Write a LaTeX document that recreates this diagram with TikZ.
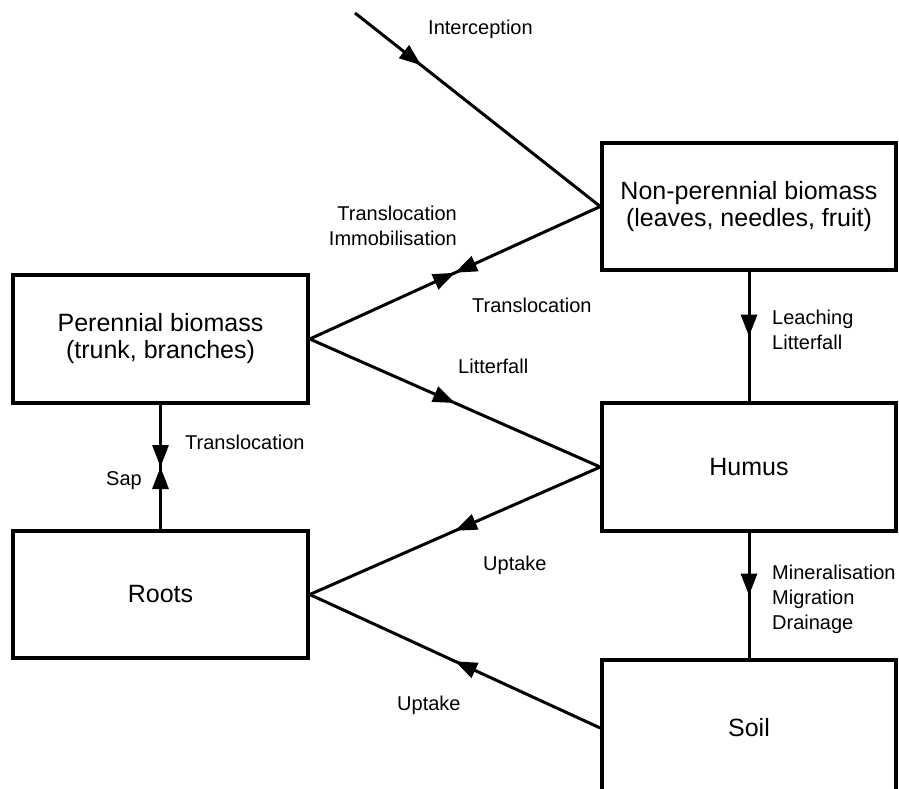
\documentclass[tikz,border=0pt]{standalone}
\usepackage{fontspec}
\setmainfont{Liberation Sans}
\usetikzlibrary{arrows.meta,decorations.markings}
\begin{document}
\begin{tikzpicture}[x=1pt,y=-1pt,
  box/.style={draw, line width=3.5pt, minimum width=294pt, minimum height=127pt,
    inner sep=0pt, align=center, font=\fontsize{25}{27}\selectfont},
  lbl/.style={inner sep=0pt, font=\fontsize{20}{25}\selectfont},
  flow/.style={line width=3pt},
  tipfwd/.style={postaction={decorate}, decoration={markings,
    mark=at position #1 with {\arrow{Triangle[length=22pt,width=16pt]}}}},
  tipboth/.style={postaction={decorate}, decoration={markings,
    mark=at position #1 with {\arrow{Triangle[length=22pt,width=16pt]}},
    mark=at position #1 with {\arrowreversed{Triangle[length=22pt,width=16pt]}}}}
]
\clip (0,0) rectangle (899,788);
\fill[white] (0,0) rectangle (899,788);

% boxes
\node[box] (np) at (749,206.5) {Non-perennial biomass\\(leaves, needles, fruit)};
\node[box, minimum width=295pt, minimum height=128pt] (pb) at (160.5,339) {Perennial biomass\\(trunk, branches)};
\node[box, minimum height=128pt] (hu) at (749,467) {Humus};
\node[box, minimum width=295pt] (ro) at (160.5,594.5) {Roots};
\node[box, minimum height=136pt] (so) at (749,728) {Soil};

\coordinate (top) at (355,13);

% connectors
\draw[flow, tipfwd=0.27] (top) -- (np.west);
\draw[flow, tipboth=0.5] (np.west) -- (pb.east);
\draw[flow, tipfwd=0.5] (pb.east) -- (hu.west);
\draw[flow, tipfwd=0.5] (hu.west) -- (ro.east);
\draw[flow, tipfwd=0.5] (so.west) -- (ro.east);
\draw[flow, tipfwd=0.5] (np.south) -- (hu.north);
\draw[flow, tipfwd=0.5] (hu.south) -- (so.north);
\draw[flow, tipboth=0.5] (pb.south) -- (ro.north);

% labels
\node[lbl, anchor=base west] (lint) at (428,34) {Interception};
\node[lbl, anchor=north east, align=right] (ltri) at (457,205.5) {Translocation\\Immobilisation};
\node[lbl, anchor=base west] (ltr2) at (472,312) {Translocation};
\node[lbl, anchor=base west] (llit) at (458,373) {Litterfall};
\node[lbl, anchor=base west] (lup1) at (483,570) {Uptake};
\node[lbl, anchor=base west] (lup2) at (397,710) {Uptake};
\node[lbl, anchor=north west, align=left] (lleach) at (772,309.5) {Leaching\\Litterfall};
\node[lbl, anchor=north west, align=left] (lmin) at (772,564.5) {Mineralisation\\Migration\\Drainage};
\node[lbl, anchor=base west] (ltr3) at (185,449) {Translocation};
\node[lbl, anchor=base west] (lsap) at (106,485) {Sap};
\end{tikzpicture}
\end{document}
